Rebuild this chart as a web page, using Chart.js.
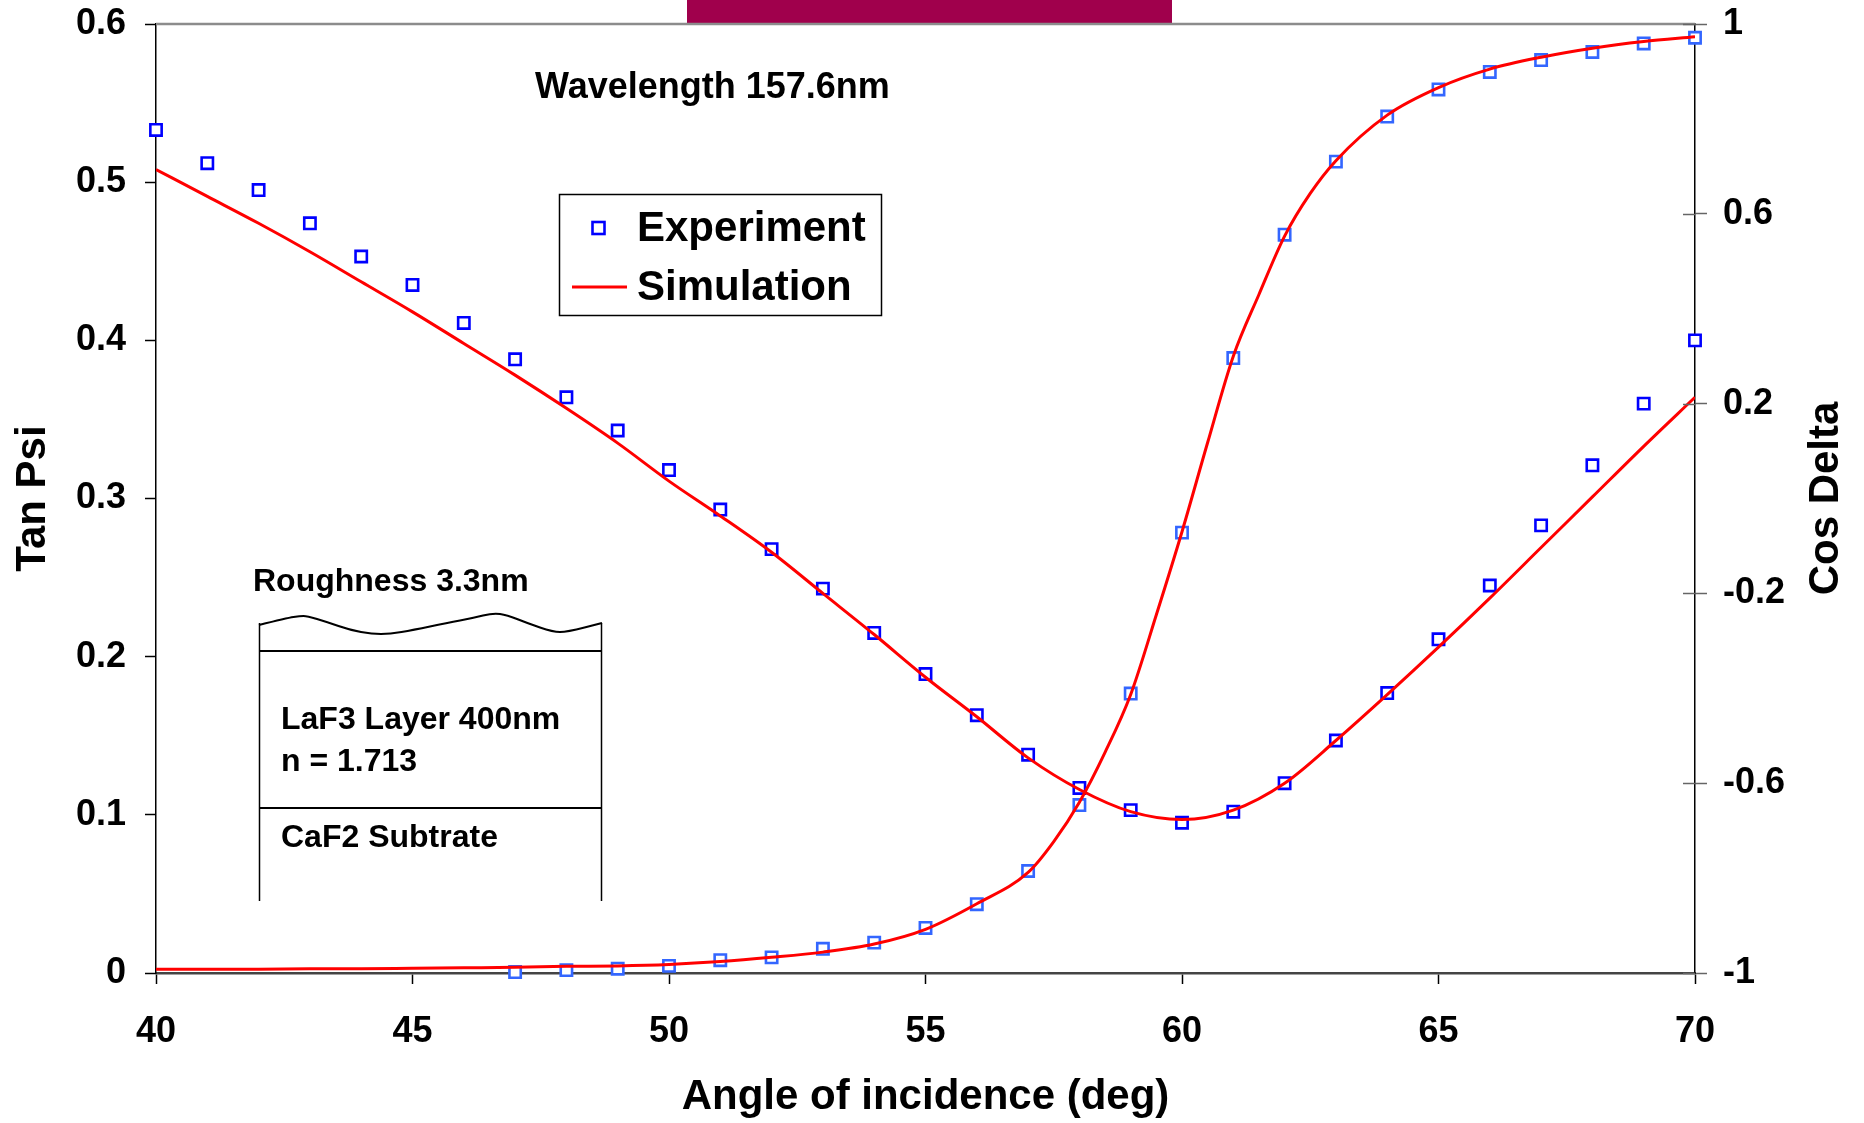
<!DOCTYPE html>
<html>
<head>
<meta charset="utf-8">
<script src="https://cdn.jsdelivr.net/npm/chart.js@4.4.1/dist/chart.umd.min.js"></script>
<style>
html,body{margin:0;padding:0;background:#fff;}
canvas{display:block;}
</style>
</head>
<body>
<canvas id="grafico" width="1864" height="1123"></canvas>
<script>
// angulos (graus) e valores
var angulos=[40,41,42,43,44,45,46,47,48,49,50,51,52,53,54,55,56,57,58,59,60,61,62,63,64,65,66,67,68,69,70];
var tanPsiExp=[0.533,0.512,0.495,0.474,0.453,0.435,0.411,0.388,0.364,0.343,0.318,0.293,0.268,0.243,0.215,0.189,0.163,0.138,0.117,0.103,0.095,0.102,0.120,0.147,0.177,0.211,0.245,0.283,0.321,0.360,0.400];
var tanPsiSim=[0.508,0.491,0.474,0.456,0.437,0.418,0.398,0.378,0.357,0.335,0.311,0.289,0.266,0.240,0.214,0.187,0.162,0.136,0.116,0.102,0.097,0.103,0.120,0.147,0.176,0.206,0.237,0.269,0.301,0.333,0.364];

var angulosCosExp=[47,48,49,50,51,52,53,54,55,56,57,58,59,60,61,62,63,64,65,66,67,68,69,70];
var cosDeltaExp=[-0.998,-0.994,-0.991,-0.985,-0.973,-0.967,-0.949,-0.936,-0.905,-0.855,-0.785,-0.646,-0.411,-0.072,0.296,0.556,0.710,0.805,0.862,0.899,0.924,0.941,0.959,0.971];

var angulosCosSim=[40,41,42,43,44,45,46,47,48,49,50,51,52,53,54,55,56,57,57.5,58,58.5,59,59.5,60,60.5,61,61.5,62,62.5,63,64,65,66,67,68,69,70];
var cosDeltaSim=[-0.992,-0.992,-0.992,-0.991,-0.991,-0.990,-0.989,-0.988,-0.986,-0.985,-0.982,-0.976,-0.967,-0.956,-0.939,-0.908,-0.854,-0.788,-0.723,-0.640,-0.535,-0.413,-0.245,-0.070,0.118,0.300,0.430,0.553,0.643,0.712,0.808,0.866,0.905,0.930,0.949,0.963,0.973];

var ticksTan=["0","0.1","0.2","0.3","0.4","0.5","0.6"];
var ticksCos=["-1","-0.6","-0.2","0.2","0.6","1"];
var ticksAng=["40","45","50","55","60","65","70"];

var corTan="#0000FF";
var corCos="#3366FF";
var corSim="#FF0000";
var fonte="'Liberation Sans', Arial, sans-serif";

function pares(xs,ys){
    var r=[];
    for (var i=0;i<xs.length;i++){
        r.push({x:xs[i],y:ys[i]});
    }
    return r;
}

// tira o espaco extra que o chart.js reserva pros rotulos nas pontas
function semSobra(s){
    s.paddingTop=0;
    s.paddingBottom=0;
    s.paddingLeft=0;
    s.paddingRight=0;
}

var enfeites={
    id:"enfeites",
    beforeDraw:function(chart){
        var c=chart.ctx;
        c.save();
        c.fillStyle="#fff";
        c.fillRect(0,0,chart.width,chart.height);
        c.restore();
    },
    afterDraw:function(chart){
        var c=chart.ctx;
        var a=chart.chartArea;
        c.save();
        // barra no topo
        c.fillStyle="#A0004C";
        c.fillRect(687,0,485,23);
        // borda de cima
        c.strokeStyle="#8c8c8c";
        c.lineWidth=2.5;
        c.beginPath();
        c.moveTo(a.left,a.top);
        c.lineTo(a.right,a.top);
        c.stroke();
        // tracinhos internos do eixo da direita
        var y2=chart.scales.y2;
        c.strokeStyle="#666";
        c.lineWidth=1.5;
        y2.ticks.forEach(function(t){
            var py=Math.round(y2.getPixelForValue(t.value))+0.5;
            c.beginPath();
            c.moveTo(a.right-12,py);
            c.lineTo(a.right,py);
            c.stroke();
        });
        // titulo do eixo da direita (lido de baixo pra cima)
        c.fillStyle="#000";
        c.font="bold 42px "+fonte;
        c.textAlign="center";
        c.textBaseline="middle";
        c.translate(1826,(a.top+a.bottom)/2);
        c.rotate(-Math.PI/2);
        c.fillText("Cos Delta",0,0);
        c.setTransform(1,0,0,1,0,0);
        // comprimento de onda
        c.textAlign="left";
        c.textBaseline="alphabetic";
        c.font="bold 36px "+fonte;
        c.fillText("Wavelength 157.6nm",535,98);
        // legenda
        c.fillStyle="#fff";
        c.fillRect(559,194,322,121);
        c.strokeStyle="#000";
        c.lineWidth=1.5;
        c.strokeRect(559.5,194.5,322,121);
        c.strokeStyle=corTan;
        c.lineWidth=2.6;
        c.strokeRect(592.5,222,12,12);
        c.strokeStyle=corSim;
        c.lineWidth=3;
        c.beginPath();
        c.moveTo(572,287);
        c.lineTo(627,287);
        c.stroke();
        c.fillStyle="#000";
        c.font="bold 42px "+fonte;
        c.fillText("Experiment",637,241);
        c.fillText("Simulation",637,300);
        // esquema da amostra
        c.font="bold 32px "+fonte;
        c.fillText("Roughness 3.3nm",253,591);
        c.fillText("LaF3 Layer 400nm",281,729);
        c.fillText("n = 1.713",281,771);
        c.fillText("CaF2 Subtrate",281,847);
        c.strokeStyle="#000";
        c.lineWidth=2;
        c.lineJoin="round";
        var onda=[[259,625],[287,618],[300,616],[307,616],[327,622],[350,630],[372,634],[390,634],[413,630],[447,623],[473,618],[493,613],[507,615],[527,623],[553,632],[567,632],[602,623]];
        c.beginPath();
        c.moveTo(onda[0][0],onda[0][1]);
        for (var i=1;i<onda.length-1;i++){
            var mx=(onda[i][0]+onda[i+1][0])/2;
            var my=(onda[i][1]+onda[i+1][1])/2;
            c.quadraticCurveTo(onda[i][0],onda[i][1],mx,my);
        }
        c.lineTo(onda[onda.length-1][0],onda[onda.length-1][1]);
        c.stroke();
        c.lineWidth=2;
        c.beginPath();
        c.moveTo(259,651);
        c.lineTo(602,651);
        c.moveTo(259,808);
        c.lineTo(602,808);
        c.stroke();
        c.lineWidth=1.5;
        c.beginPath();
        c.moveTo(259.5,623);
        c.lineTo(259.5,901);
        c.moveTo(601.5,623);
        c.lineTo(601.5,901);
        c.stroke();
        c.restore();
    }
};

var dados={
    datasets:[
        {
            label:"Simulation tan",
            data:pares(angulos,tanPsiSim),
            yAxisID:"y",
            borderColor:corSim,
            borderWidth:3,
            pointRadius:0,
            fill:false,
            cubicInterpolationMode:"monotone",
            order:0
        },
        {
            label:"Simulation cos",
            data:pares(angulosCosSim,cosDeltaSim),
            yAxisID:"y2",
            borderColor:corSim,
            borderWidth:3,
            pointRadius:0,
            fill:false,
            cubicInterpolationMode:"monotone",
            order:0
        },
        {
            label:"Experiment tan",
            data:pares(angulos,tanPsiExp),
            yAxisID:"y",
            showLine:false,
            pointStyle:"rect",
            pointRadius:8,
            pointBorderWidth:2.6,
            pointBorderColor:corTan,
            pointBackgroundColor:"#fff",
            clip:false,
            order:1
        },
        {
            label:"Experiment cos",
            data:pares(angulosCosExp,cosDeltaExp),
            yAxisID:"y2",
            showLine:false,
            pointStyle:"rect",
            pointRadius:8,
            pointBorderWidth:2.6,
            pointBorderColor:corCos,
            pointBackgroundColor:"#fff",
            clip:false,
            order:1
        }
    ]
};

var config={
    type:"line",
    data:dados,
    options:{
        responsive:false,
        devicePixelRatio:1,
        animation:false,
        layout:{padding:{top:24,left:0,right:0,bottom:0}},
        plugins:{legend:{display:false},tooltip:{enabled:false}},
        scales:{
            x:{
                type:"linear",
                min:40,
                max:70,
                afterFit:function(s){s.height=150;semSobra(s);},
                ticks:{
                    stepSize:5,
                    padding:26,
                    color:"#000",
                    font:{family:fonte,size:36,weight:"bold"},
                    callback:function(v){return ticksAng[Math.round((v-40)/5)];}
                },
                grid:{display:true,drawOnChartArea:false,drawTicks:true,tickLength:11,tickColor:"#000",tickWidth:1.5},
                border:{display:true,color:"#444",width:2.5},
                title:{display:true,text:"Angle of incidence (deg)",color:"#000",font:{family:fonte,size:42,weight:"bold"},padding:{top:0,bottom:0}}
            },
            y:{
                position:"left",
                min:0,
                max:0.6,
                afterFit:function(s){s.width=156;semSobra(s);},
                ticks:{
                    stepSize:0.1,
                    padding:19,
                    color:"#000",
                    font:{family:fonte,size:36,weight:"bold"},
                    callback:function(v){return ticksTan[Math.round(v/0.1)];}
                },
                grid:{display:true,drawOnChartArea:false,drawTicks:true,tickLength:11,tickColor:"#000",tickWidth:1.5},
                border:{display:true,color:"#000",width:1.5},
                title:{display:true,text:"Tan Psi",color:"#000",font:{family:fonte,size:42,weight:"bold"},padding:{top:8,bottom:0}}
            },
            y2:{
                position:"right",
                min:-1,
                max:1,
                afterFit:function(s){s.width=169;semSobra(s);},
                ticks:{
                    stepSize:0.4,
                    padding:16,
                    color:"#000",
                    font:{family:fonte,size:36,weight:"bold"},
                    callback:function(v){return ticksCos[Math.round((v+1)/0.4)];}
                },
                grid:{display:true,drawOnChartArea:false,drawTicks:true,tickLength:12,tickColor:"#666",tickWidth:1.5},
                border:{display:true,color:"#000",width:1.5}
            }
        }
    },
    plugins:[enfeites]
};

var ctx=document.getElementById("grafico").getContext("2d");
var g1=new Chart(ctx,config);
</script>
</body>
</html>
